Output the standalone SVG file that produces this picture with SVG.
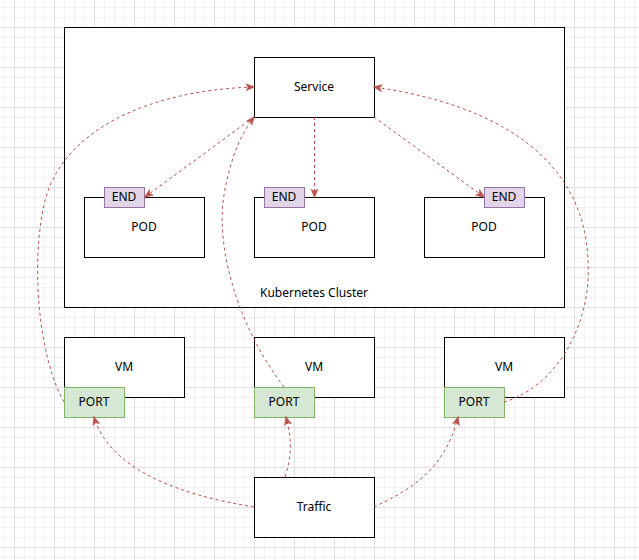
<svg xmlns="http://www.w3.org/2000/svg" width="639" height="560" viewBox="0 0 639 560">
<style>
.box{fill:#ffffff;stroke:#000000;stroke-width:1}
.end{fill:#e1d5e7;stroke:#9673a6;stroke-width:1}
.port{fill:#d5e8d4;stroke:#82b366;stroke-width:1}
.lbl{font-family:"Noto Sans","DejaVu Sans",sans-serif;font-size:12px;fill:#000000;text-anchor:middle}
.edge{fill:none;stroke:#b85450;stroke-width:1;stroke-dasharray:3 3}
</style>
<defs>
<pattern id="minor" x="4" y="7" width="10" height="10" patternUnits="userSpaceOnUse">
<rect x="0" y="0" width="1" height="10" fill="#f2f2f2"/>
<rect x="0" y="0" width="10" height="1" fill="#f2f2f2"/>
</pattern>
<pattern id="major" x="14" y="27" width="40" height="40" patternUnits="userSpaceOnUse">
<rect x="0" y="0" width="1" height="40" fill="#e0e0e0"/>
<rect x="0" y="0" width="40" height="1" fill="#e0e0e0"/>
</pattern>
<marker id="arr" viewBox="0 0 10 10" refX="9" refY="5" markerWidth="9" markerHeight="9" markerUnits="userSpaceOnUse" orient="auto">
<path d="M0,1 L10,5 L0,9 L2.5,5 Z" fill="#b85450" stroke="#b85450" stroke-width="0.5"/>
</marker>
</defs>
<rect x="0" y="0" width="639" height="560" fill="#ffffff"/>
<rect x="0" y="0" width="639" height="560" fill="url(#minor)"/>
<rect x="0" y="0" width="639" height="560" fill="url(#major)"/>

<g id="cluster">
<rect class="box" x="64.5" y="27.5" width="500" height="280"/>
<text class="lbl" x="314" y="297">Kubernetes Cluster</text>
</g>
<g id="service">
<rect class="box" x="254.5" y="57.5" width="120" height="60"/>
<text class="lbl" x="314" y="91">Service</text>
</g>
<g id="pod1">
<rect class="box" x="84.5" y="197.5" width="120" height="60"/>
<text class="lbl" x="144" y="231">POD</text>
</g>
<g id="end1">
<rect class="end" x="104.5" y="187.5" width="40" height="20"/>
<text class="lbl" x="124" y="201">END</text>
</g>
<g id="pod2">
<rect class="box" x="254.5" y="197.5" width="120" height="60"/>
<text class="lbl" x="314" y="231">POD</text>
</g>
<g id="end2">
<rect class="end" x="264.5" y="187.5" width="40" height="20"/>
<text class="lbl" x="284" y="201">END</text>
</g>
<g id="pod3">
<rect class="box" x="424.5" y="197.5" width="120" height="60"/>
<text class="lbl" x="484" y="231">POD</text>
</g>
<g id="end3">
<rect class="end" x="484.5" y="187.5" width="40" height="20"/>
<text class="lbl" x="504" y="201">END</text>
</g>
<g id="vm1">
<rect class="box" x="64.5" y="337.5" width="120" height="60"/>
<text class="lbl" x="124" y="371">VM</text>
</g>
<g id="port1">
<rect class="port" x="64.5" y="387.5" width="60" height="30"/>
<text class="lbl" x="94" y="406">PORT</text>
</g>
<g id="vm2">
<rect class="box" x="254.5" y="337.5" width="120" height="60"/>
<text class="lbl" x="314" y="371">VM</text>
</g>
<g id="port2">
<rect class="port" x="254.5" y="387.5" width="60" height="30"/>
<text class="lbl" x="284" y="406">PORT</text>
</g>
<g id="vm3">
<rect class="box" x="444.5" y="337.5" width="120" height="60"/>
<text class="lbl" x="504" y="371">VM</text>
</g>
<g id="port3">
<rect class="port" x="444.5" y="387.5" width="60" height="30"/>
<text class="lbl" x="474" y="406">PORT</text>
</g>
<g id="traffic">
<rect class="box" x="254.5" y="477.5" width="120" height="60"/>
<text class="lbl" x="314" y="511">Traffic</text>
</g>

<g id="connectors">
<path class="edge" d="M254,117 L145,197" marker-end="url(#arr)"/>
<path class="edge" d="M314.5,117 L314.5,197" marker-end="url(#arr)"/>
<path class="edge" d="M374,117 L484,197" marker-end="url(#arr)"/>
<path class="edge" d="M64,402 C40,360 30,270 44,205 C60,130 150,90 254,87" marker-end="url(#arr)"/>
<path class="edge" d="M284,387 C240,330 215,250 224,195 C230,160 240,135 254,117" marker-end="url(#arr)"/>
<path class="edge" d="M504,402 C560,385 592,320 588,260 C584,160 500,105 374,87" marker-end="url(#arr)"/>
<path class="edge" d="M254,507 C180,495 110,470 94,417" marker-end="url(#arr)"/>
<path class="edge" d="M285,477 C292,455 292,440 286,417" marker-end="url(#arr)"/>
<path class="edge" d="M374,507 C410,490 445,470 458,417" marker-end="url(#arr)"/>
</g>
</svg>
